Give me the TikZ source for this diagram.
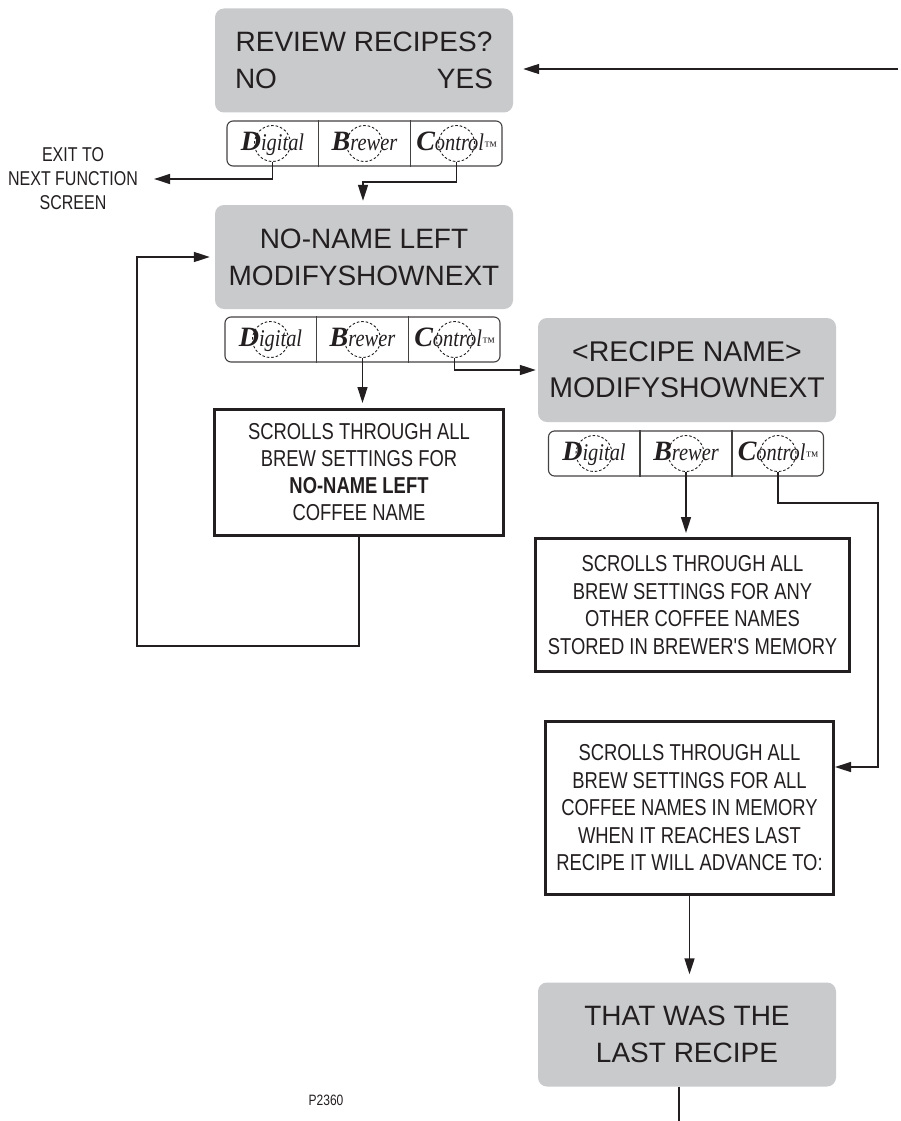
\documentclass[tikz,border=0pt]{standalone}
\usepackage{fontspec}
\setmainfont{Liberation Sans}
\newfontfamily\condf[FakeStretch=0.8]{Liberation Sans}
\newfontfamily\logof{Liberation Serif}
\newfontfamily\logon[FakeStretch=0.85]{Liberation Serif}
\usetikzlibrary{arrows.meta,calc}
\definecolor{ink}{HTML}{231F20}
\definecolor{lcd}{HTML}{C9CACC}
\newcommand\lgcap[1]{{\logof\fontsize{28}{28}\selectfont\bfseries\itshape #1}}
\newcommand\lglow[1]{{\logon\fontsize{24}{24}\selectfont\itshape #1}}
\tikzset{
  lcdbox/.style={rectangle, rounded corners=9pt, fill=lcd, draw=none, minimum width=298pt, minimum height=104pt, text=ink, font=\fontsize{28}{37}\selectfont, align=center, inner sep=0pt},
  infobox/.style={rectangle, draw=ink, line width=3pt, fill=white, text=ink, font=\condf\fontsize{23}{27.5}\selectfont, align=center, inner sep=0pt},
  stripbox/.style={rectangle, rounded corners=6pt, draw=ink!85, line width=1.1pt, minimum width=275pt, minimum height=45pt, inner sep=0pt},
  divline/.style={draw=ink!85, line width=1.1pt},
  dashcirc/.style={circle, draw=ink, dash pattern=on 2.5pt off 2pt, line width=0.9pt, minimum size=36pt, inner sep=0pt},
  logo/.style={font=\logof, text=ink, inner sep=0pt, anchor=base},
  conn/.style={draw=ink, line width=1.5pt},
  arr/.style={conn, -{Triangle[length=16pt,width=10pt]}},
  smalltext/.style={text=ink, align=center, inner sep=0pt},
}
\newcommand\dbcstrip[3]{%
  \node[stripbox] (#1) at (#2,#3) {};
  \draw[divline] ($(#1.north west)!1/3!(#1.north east)$) -- ($(#1.south west)!1/3!(#1.south east)$);
  \draw[divline] ($(#1.north west)!2/3!(#1.north east)$) -- ($(#1.south west)!2/3!(#1.south east)$);
  \coordinate (#1dp) at ($(#1.west)!1/6!(#1.east)$);
  \coordinate (#1bp) at ($(#1.west)!1/2!(#1.east)$);
  \coordinate (#1cp) at ($(#1.west)!5/6!(#1.east)$);
  \node[logo] (#1d) at ($(#1dp)+(0,6.5)$) {\lgcap{D}\lglow{igital}};
  \node[logo] (#1b) at ($(#1bp)+(0,6.5)$) {\lgcap{B}\lglow{rewer}};
  \node[logo] (#1c) at ($(#1cp)+(0,6.5)$) {\lgcap{C}\lglow{ontrol}{\logof\fontsize{13}{13}\selectfont\itshape ™}};
  \node[dashcirc] (#1dc) at (#1dp) {};
  \node[dashcirc] (#1bc) at (#1bp) {};
  \node[dashcirc] (#1cc) at (#1cp) {};
}
\begin{document}
\begin{tikzpicture}[x=1pt, y=-1pt]
\useasboundingbox (0,0) rectangle (900,1121);
\fill[white] (0,0) rectangle (900,1121);

% LCD screens
\node[lcdbox] (g1) at (364,60.5) {\parbox{258pt}{\centering REVIEW RECIPES?\\ NO\hfill YES}};
\node[lcdbox] (g2) at (364,257) {NO-NAME LEFT\\MODIFYSHOWNEXT};
\node[lcdbox, font=\fontsize{28.5}{36}\selectfont] (g3) at (687,370) {<RECIPE NAME>\\MODIFYSHOWNEXT};
\node[lcdbox] (g4) at (687,1034.5) {THAT WAS THE\\LAST RECIPE};

% button strips
\dbcstrip{sa}{364.5}{143.5}
\dbcstrip{sb}{362.5}{339.5}
\dbcstrip{sc}{686}{453.5}

% info boxes
\node[infobox, minimum width=289pt, minimum height=126pt, font=\condf\fontsize{23}{27}\selectfont] (lb) at (359,472.5)
  {SCROLLS THROUGH ALL\\BREW SETTINGS FOR\\\textbf{NO-NAME LEFT}\\COFFEE NAME};
\node[infobox, minimum width=314pt, minimum height=133pt] (rb1) at (692.5,605)
  {SCROLLS THROUGH ALL\\BREW SETTINGS FOR ANY\\OTHER COFFEE NAMES\\STORED IN BREWER'S MEMORY};
\node[infobox, minimum width=288pt, minimum height=173pt] (rb2) at (689.5,808)
  {SCROLLS THROUGH ALL\\BREW SETTINGS FOR ALL\\COFFEE NAMES IN MEMORY\\WHEN IT REACHES LAST\\RECIPE IT WILL ADVANCE TO:};

% side texts
\node[smalltext, font=\condf\fontsize{20}{24}\selectfont] (exit) at (73,179) {EXIT TO\\NEXT FUNCTION\\SCREEN};
\node[smalltext, font=\condf\fontsize{15}{15}\selectfont] (code) at (326,1100) {P2360};

% helper coordinates
\coordinate (tr) at (898,69);
\coordinate (j1) at (363,182);
\coordinate (lp) at (137,646);
\coordinate (rc1) at (878,503);
\coordinate (rc2) at (878,767);
\coordinate (bot) at (679,1121);

% connectors
\draw[arr, shorten >=10pt] (tr) -- (tr -| g1.east);
\draw[arr, shorten >=16pt] (sadc.south) |- (exit.east);
\draw[arr, shorten >=4pt] (sacc.south) |- (j1) -- (j1 |- g2.north);
\draw[arr, shorten >=5pt] (lb.south) |- (lp) |- (g2.west);
\draw[arr, shorten >=5pt] (sbbc.south) -- (sbbc.south |- lb.north);
\draw[arr, shorten >=2pt] (sbcc.south) |- (g3.west);
\draw[arr, shorten >=4pt] (scbc.south) -- (scbc.south |- rb1.north);
\draw[arr] (sccc.south) |- (rc1) -- (rc2) -- (rc2 -| rb2.east);
\draw[arr, shorten >=8pt] (rb2.south) -- (rb2.south |- g4.north);
\draw[conn] (bot |- g4.south) -- (bot);
\end{tikzpicture}
\end{document}
